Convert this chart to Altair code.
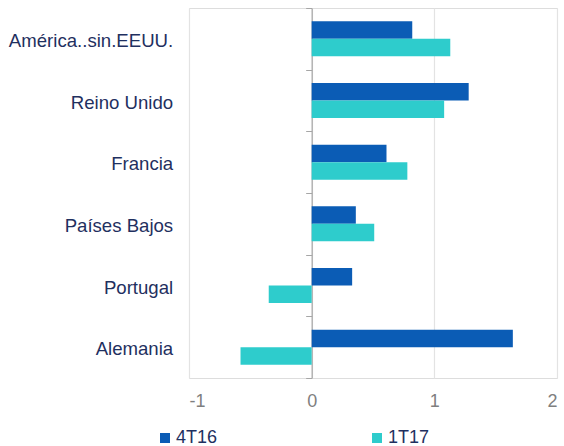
import altair as alt
import pandas as pd

categories = ["América..sin.EEUU.", "Reino Unido", "Francia", "Países Bajos", "Portugal", "Alemania"]
series = ["4T16", "1T17"]
values_4t16 = [0.82, 1.28, 0.61, 0.36, 0.33, 1.64]
values_1t17 = [1.13, 1.08, 0.78, 0.51, -0.35, -0.58]
x_ticks = [-1, 0, 1, 2]
colors = ["#0B5CB5", "#2ECCCC"]

rows = []
for c, a, b in zip(categories, values_4t16, values_1t17):
    rows.append({"pais": c, "serie": series[0], "valor": a})
    rows.append({"pais": c, "serie": series[1], "valor": b})
df = pd.DataFrame(rows)

FONT = "Liberation Sans"
W, H = 368, 370

bars = alt.Chart(df).mark_bar().encode(
    x=alt.X("valor:Q", scale=alt.Scale(domain=[-1, 2], nice=False, zero=False),
            axis=alt.Axis(values=x_ticks, title=None, domain=False, ticks=False,
                          grid=True, gridColor="#e3e3e3", gridWidth=1.2,
                          labelFontSize=18, labelColor="#7f7f7f", labelFont=FONT,
                          labelPadding=14, labelExpr="toString(datum.value)")),
    y=alt.Y("pais:N", sort=categories,
            scale=alt.Scale(paddingInner=0, paddingOuter=0),
            axis=alt.Axis(title=None, offset=-W / 3, tickBand="extent", tickSize=6,
                          tickColor="#a6a6a6", domainColor="#a6a6a6", domainWidth=1.2,
                          labelPadding=133, labelFontSize=18.6, labelColor="#1f3060",
                          labelFont=FONT, labelOffset=1.5, grid=False)),
    yOffset=alt.YOffset("serie:N", sort=series,
                        scale=alt.Scale(paddingInner=0, paddingOuter=0.76)),
    color=alt.Color("serie:N", sort=series,
                    scale=alt.Scale(domain=series, range=colors),
                    legend=alt.Legend(title=None, orient="none", direction="horizontal",
                                      legendX=-33, legendY=421, padding=0,
                                      symbolType="square",
                                      symbolSize=100, symbolStrokeWidth=0,
                                      labelFontSize=18, labelColor="#1f3060",
                                      labelFont=FONT, labelOffset=2, columnPadding=150)),
)

chart = bars.properties(
    width=W, height=H,
    padding={"left": 189, "top": 8, "right": 7, "bottom": 68},
    autosize=alt.AutoSizeParams(type="none"),
).configure_view(stroke=None).configure(background="white")

chart.save("out.html", embed_options={"renderer": "svg", "actions": False})
